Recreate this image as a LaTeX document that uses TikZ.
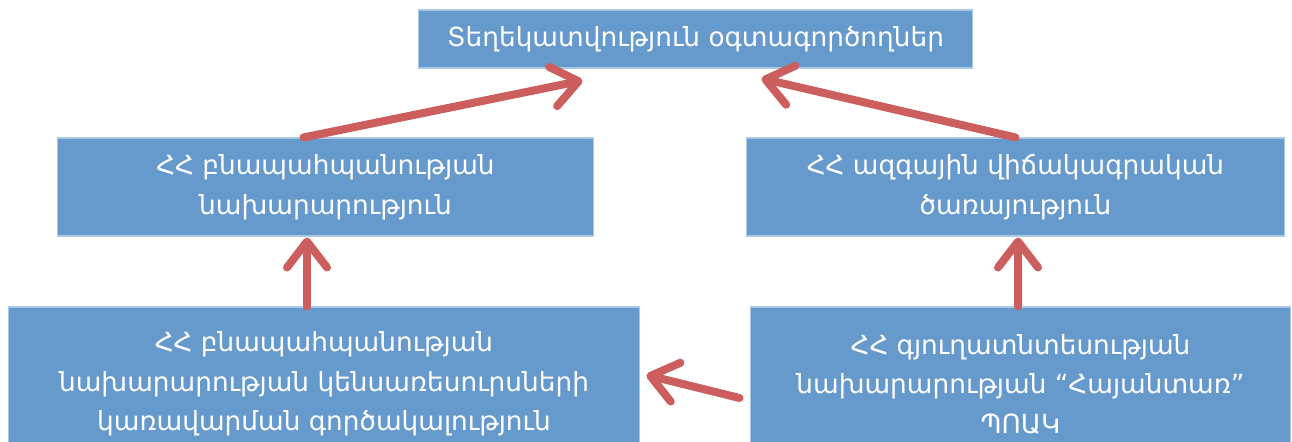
\documentclass[tikz,border=0pt]{standalone}
\usepackage{fontspec}
\setmainfont{DejaVu Sans}
\usepackage{tikz}
\usetikzlibrary{calc,arrows.meta}
\definecolor{boxblue}{RGB}{102,153,204}
\definecolor{boxline}{RGB}{170,200,232}
\definecolor{arrowred}{RGB}{204,94,94}
\tikzset{>={Straight Barb[round,length=0.52cm,width=0.8cm]}}
\tikzset{orgbox/.style={draw=boxline,line width=0.6pt,fill=boxblue,text=white,align=center,
    font=\fontsize{15}{22.5}\selectfont,inner sep=0pt},
  link/.style={->,line width=0.16cm,arrowred,line cap=round}}

\begin{document}
\begin{tikzpicture}[x=0.02cm,y=-0.02cm]
      \useasboundingbox (0,0) rectangle (1292,442);
      \clip (0,0) rectangle (1292,442);
      \node[orgbox,minimum width=11.1cm,minimum height=1.16cm] (users) at (695.5,39) {Տեղեկատվություն օգտագործողներ};
      \node[orgbox,minimum width=10.74cm,minimum height=1.96cm] (envmin) at (325.5,187) {ՀՀ բնապահպանության\\նախարարություն};
      \node[orgbox,minimum width=10.78cm,minimum height=1.96cm] (statsvc) at (1015.5,187) {ՀՀ ազգային վիճակագրական\\ծառայություն};
      \node[orgbox,minimum width=12.64cm,minimum height=3.08cm] (bioagency) at (324,384) {ՀՀ բնապահպանության\\նախարարության կենսառեսուրսների\\կառավարման գործակալություն};
      \node[orgbox,minimum width=10.82cm,minimum height=3.08cm] (forest) at (1020.5,384) {ՀՀ գյուղատնտեսության\\նախարարության “Հայանտառ”\\ՊՈԱԿ};
      \draw[link] ($(envmin.north)+(-22,0)$) -- ($(users.south)+(-113,12)$);
      \draw[link] (statsvc.north) -- ($(users.south)+(66,10)$);
      \draw[link] ($(bioagency.north)+(-17,0)$) -- ($(envmin.south)+(-18.5,1)$);
      \draw[link] ($(forest.north)+(-2.5,0)$) -- ($(statsvc.south)+(2.5,1)$);
      \draw[link] ($(forest.west)+(-10,14)$) -- ($(bioagency.east)+(6,-9)$);
    \end{tikzpicture}
\end{document}
